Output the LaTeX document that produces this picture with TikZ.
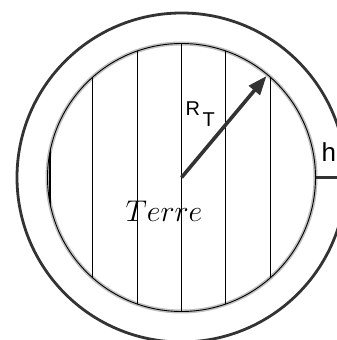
\RequirePackage{fix-cm}
\documentclass[tikz,border=0pt]{standalone}
\usepackage{fontspec}
\newfontfamily\arialf{Liberation Sans}
\usetikzlibrary{arrows.meta}
\definecolor{dk}{HTML}{333333}
\tikzset{
  outerc/.style={draw=dk, line width=2.8pt},
  halo/.style={draw=black!25, line width=4pt},
  innerc/.style={draw=black, line width=0.9pt},
  chord/.style={draw=black, line width=1.1pt},
  radius arrow/.style={draw=dk, fill=dk, line width=3.6pt, -{Triangle[length=19pt,width=14pt]}},
  lbl/.style={inner sep=0pt, anchor=base west}
}
\begin{document}
\begin{tikzpicture}[x=1pt,y=1pt]
\useasboundingbox (0,0) rectangle (337,340);
\clip (0,0) rectangle (337,340);
\coordinate (C) at (181.5,162.5);
% outer circle (atmosphere)
\draw[outerc] (C) circle (164.5);
% inner circle (Earth)
\draw[halo] (C) circle (134);
\begin{scope}
  \clip (C) circle (134);
  \foreach \d in {-131.5,-88.6,-44.3,0,44.3,88.6}
    \draw[chord] ([xshift=\d]C) ++(0,-150) -- ++(0,300);
\end{scope}
\draw[innerc] (C) circle (134);
% radius arrow
\coordinate (tip) at (266.5,264);
\draw[radius arrow] (C) -- (tip);
% h marker
\coordinate (hin) at (315.5,162.5);
\coordinate (hout) at (337,162.5);
\draw[draw=dk, line width=2.8pt] (hin) -- (hout);
% labels
\node[lbl] (R) at (185.5,224) {\arialf\fontsize{20}{22}\selectfont R};
\node[lbl] (T) at (202.5,213) {\arialf\fontsize{20}{22}\selectfont T};
\node[lbl] (h) at (321.3,178) {\arialf\fontsize{26}{26}\selectfont h};
\node[inner sep=0pt, anchor=base] (terre) at (164,118) {\fontsize{30}{30}\selectfont$Terre$};
\end{tikzpicture}
\end{document}
